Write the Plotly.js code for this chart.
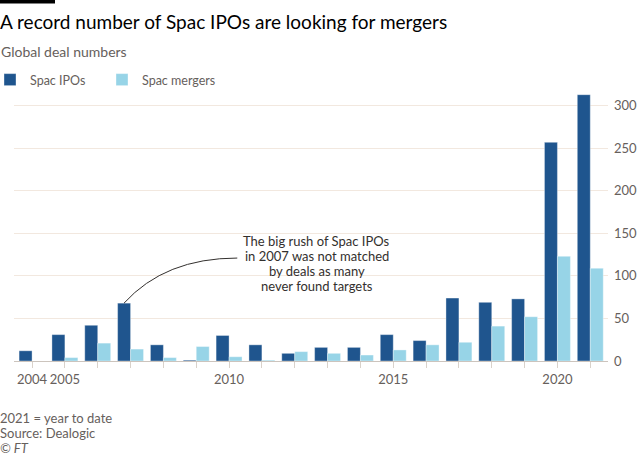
<!DOCTYPE html>
<html><head><meta charset="utf-8">
<script src="https://cdn.plot.ly/plotly-3.0.1.min.js"></script>
<style>html,body{margin:0;padding:0;background:#fff}#chart{width:640px;height:457px}</style>
</head><body><div id="chart"></div>
<script>
const years = [2004,2005,2006,2007,2008,2009,2010,2011,2012,2013,2014,2015,2016,2017,2018,2019,2020,2021];
const spacIPOs = [12,31,42,68,19,1,30,19,9,16,16,31,24,74,69,73,257,313];
const spacMergers = [0,4,21,14,4,17,5,1,11,9,7,13,19,22,41,52,123,109];
const labeledYears = [2004,2005,2010,2015,2020];
const yTicks = [0,50,100,150,200,250,300];
const noteLines = ['The big rush of Spac IPOs','in 2007 was not matched','by deals as many','never found targets'];
const footerLines = ['2021 = year to date','Source: Dealogic','<i>© FT</i>'];

const FONT = 'Lato, "Noto Sans", sans-serif';
const GREY = '#66605c';
const W = 640, H = 457, mL = 14, mR = 32, mT = 93, mB = 96;
const plotW = W - mL - mR, plotH = H - mT - mB;
const py = p => (H - mB - p) / plotH;
const px = p => (p - mL) / plotW;

const i07 = years.indexOf(2007);
const sx = years[i07] - 0.2, sy = spacIPOs[i07];
const ex = 2010.25, ey = 121, cx = 2008.05, cy = 121;

const data = [
  {type:'bar', name:'Spac IPOs', legend:'legend', x:years, y:spacIPOs, marker:{color:'#1f558e', line:{color:'rgba(255,255,255,0.6)', width:0.6}}},
  {type:'bar', name:'Spac mergers', legend:'legend2', x:years, y:spacMergers, marker:{color:'#97d4e7', line:{color:'rgba(255,255,255,0.6)', width:0.6}}}
];
const annotations = [
  {text:'Global deal numbers', xref:'paper', yref:'paper', x:px(-1), xanchor:'left', y:py(52), yanchor:'middle', showarrow:false, font:{size:14, color:GREY}}
];
noteLines.forEach((t, i) => annotations.push({text:t, xref:'paper', yref:'paper', x:px(316.7), xanchor:'center', y:py(240.5 + i*15), yanchor:'middle', showarrow:false, borderpad:0, font:{size:13, color:'#33302e'}}));
footerLines.forEach((t, i) => annotations.push({text:t, xref:'paper', yref:'paper', x:px(-1), xanchor:'left', y:py(418 + i*15), yanchor:'middle', showarrow:false, borderpad:0, font:{size:13, color:GREY}}));

const legendBase = {orientation:'h', xanchor:'left', y:py(80), yanchor:'middle', font:{size:12.5, color:GREY}, itemwidth:30, bgcolor:'rgba(0,0,0,0)'};
const layout = {
  width:W, height:H, margin:{l:mL, r:mR, t:mT, b:mB, autoexpand:false},
  paper_bgcolor:'#fff', plot_bgcolor:'#fff',
  font:{family:FONT, color:GREY, size:13},
  barmode:'group', bargap:0.21, bargroupgap:0,
  title:{text:'A record number of Spac IPOs are looking for mergers', x:0, xref:'container', xanchor:'left', y:1-22/H, yref:'container', yanchor:'middle', font:{family:FONT, size:19, color:'#000'}},
  showlegend:true,
  legend:Object.assign({}, legendBase, {x:px(-10)}),
  legend2:Object.assign({}, legendBase, {x:px(102)}),
  xaxis:{range:[2003.45,2021.54], tickvals:years, ticktext:years.map(y => labeledYears.includes(y) ? String(y) : ''), tickangle:0, ticks:'outside', ticklen:6, tickcolor:'#d9d2cb', showgrid:false, showline:true, linecolor:'#ccc4bd', linewidth:1, zeroline:false, tickfont:{size:13, color:GREY}, fixedrange:true},
  yaxis:{range:[0,315], side:'right', tickvals:yTicks, showgrid:true, gridcolor:'#f2e8df', gridwidth:1, zeroline:false, showline:false, ticks:'', ticklabelstandoff:5, tickfont:{size:13, color:GREY}, fixedrange:true},
  shapes:[
    {type:'rect', xref:'paper', yref:'paper', x0:px(0), x1:px(55), y0:py(0), y1:py(3.5), fillcolor:'#000', line:{width:0}},
    {type:'path', xref:'x', yref:'y', path:`M ${sx},${sy} Q ${cx},${cy} ${ex},${ey}`, line:{color:'#33302e', width:1}}
  ],
  annotations:annotations
};
Plotly.newPlot('chart', data, layout, {staticPlot:true, displayModeBar:false});
</script></body></html>
